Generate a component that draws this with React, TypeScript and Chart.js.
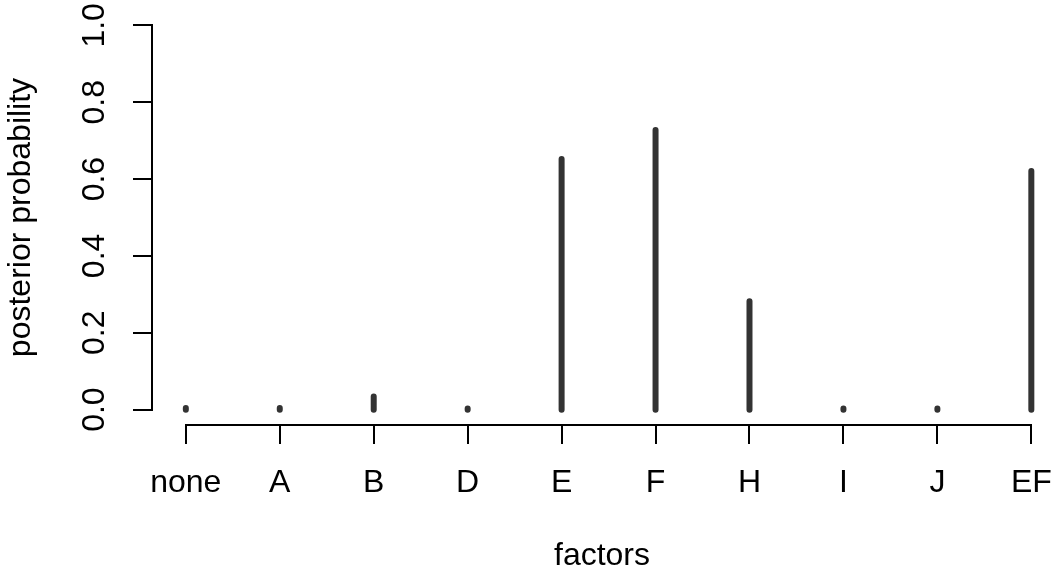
import React, { useEffect, useRef } from "react";
import { Chart, registerables } from "chart.js";

Chart.register(...registerables);

// ---- data ----
const categories = ["none", "A", "B", "D", "E", "F", "H", "I", "J", "EF"];
const posteriorProbability = [0.004, 0.004, 0.034, 0.003, 0.652, 0.728, 0.282, 0.003, 0.003, 0.621];
const yTickValues = [0, 0.2, 0.4, 0.6, 0.8, 1.0];
const xAxisTitle = "factors";
const yAxisTitle = "posterior probability";

const W = 1052;
const H = 575;
const FONT = "'Liberation Sans', Arial, Helvetica, sans-serif";
const FONT_SIZE = 32;

const rAxisLines = {
  id: "rAxisLines",
  afterDraw(chart: any) {
    const { ctx, scales, chartArea } = chart;
    const x = scales.x;
    const y = scales.y;
    ctx.save();
    ctx.strokeStyle = "#000";
    ctx.lineWidth = 2;
    ctx.lineCap = "butt";
    const yb = Math.round(chartArea.bottom);
    const xs = Math.round(x.getPixelForValue(1));
    const xe = Math.round(x.getPixelForValue(categories.length));
    ctx.beginPath();
    ctx.moveTo(xs - 1, yb);
    ctx.lineTo(xe + 1, yb);
    ctx.stroke();
    const xl = Math.round(chartArea.left);
    const y0 = Math.round(y.getPixelForValue(yTickValues[0]));
    const y1 = Math.round(y.getPixelForValue(yTickValues[yTickValues.length - 1]));
    ctx.beginPath();
    ctx.moveTo(xl, y0 + 1);
    ctx.lineTo(xl, y1 - 1);
    ctx.stroke();
    ctx.restore();
  },
};

export default function App() {
  const ref = useRef<HTMLCanvasElement | null>(null);

  useEffect(() => {
    if (!ref.current) return;
    const points: any[] = [];
    categories.forEach((_, i) => {
      points.push({ x: i + 1, y: 0 });
      points.push({ x: i + 1, y: posteriorProbability[i] });
      points.push({ x: i + 1, y: null });
    });

    const chart = new Chart(ref.current, {
      type: "scatter",
      data: {
        datasets: [
          {
            data: points,
            showLine: true,
            spanGaps: false,
            borderColor: "#333333",
            borderWidth: 6,
            borderCapStyle: "round",
            pointRadius: 0,
            pointHoverRadius: 0,
            tension: 0,
          } as any,
        ],
      },
      options: {
        responsive: false,
        animation: false,
        devicePixelRatio: 1,
        layout: { padding: { top: 10, right: 0, bottom: 0, left: 0 } },
        plugins: { legend: { display: false }, tooltip: { enabled: false } },
        scales: {
          x: {
            type: "linear",
            position: "bottom",
            min: 0.64,
            max: 10.22,
            afterBuildTicks: (scale: any) => {
              scale.ticks = categories.map((_, i) => ({ value: i + 1 }));
            },
            afterFit: (scale: any) => {
              scale.height = 150;
              scale.paddingLeft = 0;
              scale.paddingRight = 0;
            },
            border: { display: false },
            grid: {
              drawOnChartArea: false,
              drawTicks: true,
              tickLength: 19,
              color: "#000",
              lineWidth: 2,
            },
            ticks: {
              color: "#000",
              font: { family: FONT, size: FONT_SIZE },
              padding: 20,
              maxRotation: 0,
              minRotation: 0,
              autoSkip: false,
              callback: (v: any) => categories[Math.round(Number(v)) - 1] ?? "",
            },
            title: {
              display: true,
              text: xAxisTitle,
              color: "#000",
              font: { family: FONT, size: FONT_SIZE },
              padding: { top: 0, bottom: 0 },
            },
          },
          y: {
            type: "linear",
            position: "left",
            min: -0.04,
            max: 1.04,
            afterBuildTicks: (scale: any) => {
              scale.ticks = yTickValues.map((v) => ({ value: v }));
            },
            afterFit: (scale: any) => {
              scale.width = 152;
              scale.paddingTop = 0;
              scale.paddingBottom = 0;
            },
            border: { display: false },
            grid: {
              drawOnChartArea: false,
              drawTicks: true,
              tickLength: 19,
              color: "#000",
              lineWidth: 2,
            },
            ticks: {
              color: "#000",
              font: { family: FONT, size: FONT_SIZE },
              padding: 16,
              minRotation: 90,
              maxRotation: 90,
              crossAlign: "center",
              autoSkip: false,
              callback: (v: any) => Number(v).toFixed(1),
            },
            title: {
              display: true,
              text: yAxisTitle,
              color: "#000",
              font: { family: FONT, size: FONT_SIZE },
              padding: { top: 2, bottom: 0 },
            },
          },
        },
      },
      plugins: [rAxisLines],
    } as any);

    return () => chart.destroy();
  }, []);

  return (
    <div style={{ position: "absolute", left: 0, top: 0, width: W, height: H, background: "#fff" }}>
      <canvas ref={ref} width={W} height={H} style={{ display: "block" }} />
    </div>
  );
}
